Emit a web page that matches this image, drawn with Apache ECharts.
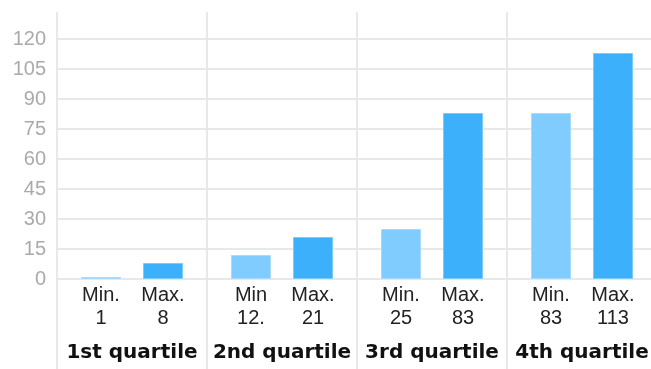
<!DOCTYPE html>
<html>
<head>
<meta charset="utf-8">
<script src="https://cdn.jsdelivr.net/npm/echarts@6/dist/echarts.min.js"></script>
<style>
  html, body { margin: 0; padding: 0; background: #fff; }
  #chart { width: 651px; height: 369px; }
</style>
</head>
<body>
<div id="chart"></div>
<script>
// Quartile groups along the x axis
const quartiles = ['1st quartile', '2nd quartile', '3rd quartile', '4th quartile'];

// Lowest and highest value in each quartile
const minValues = [1, 12, 25, 83];
const maxValues = [8, 21, 83, 113];

// Text shown under each bar
const minLabels = ['Min.\n1', 'Min\n12.', 'Min.\n25', 'Min.\n83'];
const maxLabels = ['Max.\n8', 'Max.\n21', 'Max.\n83', 'Max.\n113'];

const gridColor = '#e8e8e8';
const textFont = 'Liberation Sans';

const chart = echarts.init(document.getElementById('chart'), null, { renderer: 'canvas' });

chart.setOption({
  animation: false,
  // plot area runs a little past the right edge of the canvas
  grid: { left: 57, width: 600, top: 12, bottom: 90, containLabel: false, outerBoundsMode: 'none' },
  xAxis: {
    type: 'category',
    data: quartiles,
    boundaryGap: true,
    axisLine: { show: false },
    axisTick: { show: true, interval: 0, length: 90, lineStyle: { color: gridColor, width: 2 } },
    axisLabel: {
      interval: 0,
      color: '#111',
      fontFamily: 'DejaVu Sans',
      fontWeight: 'bold',
      fontSize: 20,
      margin: 64
    },
    splitLine: { show: true, interval: 0, lineStyle: { color: gridColor, width: 2 } }
  },
  yAxis: {
    type: 'value',
    min: 0,
    max: 133.5,
    interval: 15,
    axisLine: { show: false },
    axisTick: { show: false },
    axisLabel: {
      color: '#aaa',
      fontFamily: textFont,
      fontSize: 20,
      margin: 11,
      showMaxLabel: false
    },
    splitLine: { show: true, showMaxLine: false, lineStyle: { color: gridColor, width: 2 } }
  },
  series: [
    {
      name: 'Min',
      type: 'bar',
      data: minValues,
      barWidth: 40,
      barGap: '55%',
      itemStyle: { color: '#80cbff', borderColor: '#a6dbff', borderWidth: 1 },
      label: {
        show: true,
        position: 'bottom',
        distance: 5,
        color: '#222',
        fontFamily: textFont,
        fontSize: 20,
        lineHeight: 23,
        formatter: (p) => minLabels[p.dataIndex]
      }
    },
    {
      name: 'Max',
      type: 'bar',
      data: maxValues,
      barWidth: 40,
      itemStyle: { color: '#3cb0fb', borderColor: '#7ccbff', borderWidth: 1 },
      label: {
        show: true,
        position: 'bottom',
        distance: 5,
        color: '#222',
        fontFamily: textFont,
        fontSize: 20,
        lineHeight: 23,
        formatter: (p) => maxLabels[p.dataIndex]
      }
    }
  ]
});
</script>
</body>
</html>
